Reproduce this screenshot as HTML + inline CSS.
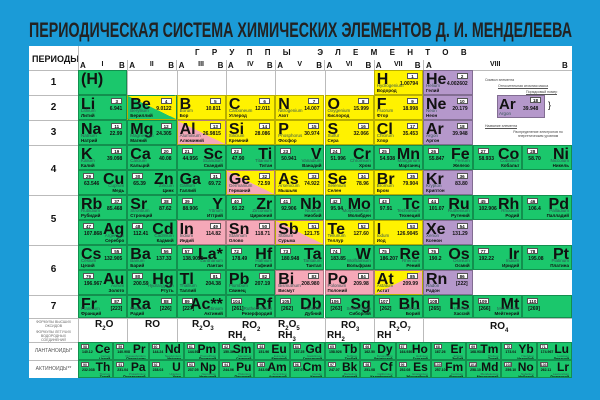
<!DOCTYPE html>
<html><head><meta charset="utf-8">
<style>
*{margin:0;padding:0;box-sizing:border-box}
body{width:600px;height:400px;background:#1b9bd7;position:relative;overflow:hidden;font-family:"Liberation Sans","DejaVu Sans",sans-serif;color:#111}
#t{position:absolute;left:29px;top:46px;width:543px;height:332px;background:#fff}
.a{position:absolute}
.c{position:absolute;border:0.5px solid rgba(0,0,0,.28);overflow:hidden}
.s{position:absolute;font-weight:bold;font-size:16px;line-height:16px;top:1px}
.n{position:absolute;top:2px;width:11px;height:6px;background:#fff;border:0.5px solid #555;font-size:4.5px;line-height:5px;text-align:center;font-weight:bold}
.m{position:absolute;top:10px;font-size:5px;font-weight:bold}
.l{position:absolute;bottom:6px;font-size:4.5px;color:#355}
.r{position:absolute;bottom:1px;font-size:4.5px;font-weight:bold}
.hl{position:absolute;background:#bbb}
.f{position:absolute;font-size:10px;font-weight:bold;line-height:10px}
.f sub{font-size:6px}
</style></head><body>
<svg class="a" style="left:0;top:0" width="600" height="46"><text x="29" y="37" textLength="543" lengthAdjust="spacingAndGlyphs" font-family="Liberation Sans" font-weight="bold" font-size="21" fill="#222">ПЕРИОДИЧЕСКАЯ СИСТЕМА ХИМИЧЕСКИХ ЭЛЕМЕНТОВ Д. И. МЕНДЕЛЕЕВА</text></svg>
<div id="t"></div>
<script>
const B=document.body;
function el(cls,st,txt){const d=document.createElement('div');d.className=cls;d.style.cssText=st;if(txt!==undefined)d.textContent=txt;B.appendChild(d);return d;}
const G='#1bc76c',Y='#fff200',P='#f5a8b8',V='#b598cb';
const GX=[78,127.3,176.6,225.9,275.2,324.5,373.8,423,472.7,522.3,572];
el('a','left:32px;top:54px;font-size:9px;font-weight:bold','ПЕРИОДЫ');
el('a','left:195px;top:48px;font-size:8px;font-weight:bold;letter-spacing:12.3px','ГРУППЫ ЭЛЕМЕНТОВ');
const rom=['I','II','III','IV','V','VI','VII'];
for(let i=0;i<7;i++){const x=GX[i];
 el('a',`left:${x+2}px;top:61px;font-size:8px;font-weight:bold`,'A');
 el('a',`left:${x}px;width:49px;text-align:center;top:61px;font-size:7px;font-weight:bold`,rom[i]);
 el('a',`left:${x+41}px;top:61px;font-size:8px;font-weight:bold`,'B');
 el('hl',`left:${x+49}px;top:60px;width:0.6px;height:10px`);}
el('a','left:426px;top:61px;font-size:8px;font-weight:bold','A');
el('a','left:490px;top:61px;font-size:7px;font-weight:bold','VIII');
el('a','left:562px;top:61px;font-size:8px;font-weight:bold','B');
el('hl','left:29px;top:70px;width:543px;height:0.7px');
el('hl','left:78px;top:46px;width:0.7px;height:332px');
const PR=[[70,95,'1'],[95,120,'2'],[120,145,'3'],[145,195,'4'],[195,245,'5'],[245,295,'6'],[295,318,'7']];
PR.forEach(p=>{el('a',`left:29px;width:49px;text-align:center;top:${(p[0]+p[1])/2-6}px;font-size:10px;font-weight:bold`,p[2]);el('hl',`left:29px;top:${p[1]}px;width:49px;height:0.7px`);});
for(let i=1;i<=6;i++)el('hl',`left:${GX[i]}px;top:70px;width:0.6px;height:25px`);
function cell(col,y,h,d){
 const [sym,z,mass,lat,rus,bg,side]=d;const x=GX[col],w=GX[col+1]-x;
 const c=el('c',`left:${x}px;top:${y}px;width:${w}px;height:${h}px;background:${bg}`);
 const add=(cls,st,t)=>{const e=document.createElement('div');e.className=cls;e.style.cssText=st;e.textContent=t;c.appendChild(e);};
 if(side=='A'){add('s','left:2px',sym);if(z){add('n','right:4px',z);add('m','right:4px',mass);}add('l','left:2px',lat);add('r','left:2px',rus);}
 else{add('s','right:2px',sym);if(z){add('n','left:4px',z);add('m','left:5px',mass);}add('l','right:2px',lat);add('r','right:2px',rus);}
}
const gr=(a,b)=>`linear-gradient(to top right,${a} 50%,${b} 50%)`;
const gr2=(a,b)=>`linear-gradient(to bottom right,${a} 50%,${b} 50%)`;
cell(0,70,25,['(H)','','','','',G,'A']);
cell(6,70,25,['H',1,'1.00794','Hydrogenium','Водород',Y,'A']);
cell(7,70,25,['He',2,'4.002602','Helium','Гелий',V,'A']);
const rows=[
[95,25,[['Li',3,'6.941','Lithium','Литий',G,'A'],['Be',4,'9.0122','Beryllium','Бериллий',gr(G,Y),'A'],['B',5,'10.811','Borum','Бор',Y,'A'],['C',6,'12.011','Carboneum','Углерод',Y,'A'],['N',7,'14.007','Nitrogenium','Азот',Y,'A'],['O',8,'15.999','Oxygenium','Кислород',Y,'A'],['F',9,'18.998','Fluorum','Фтор',Y,'A'],['Ne',10,'20.179','Neon','Неон',V,'A']]],
[120,25,[['Na',11,'22.99','Natrium','Натрий',G,'A'],['Mg',12,'24.305','Magnesium','Магний',G,'A'],['Al',13,'26.9815','Aluminium','Алюминий',gr(P,Y),'A'],['Si',14,'28.086','Silicium','Кремний',Y,'A'],['P',15,'30.974','Phosphorus','Фосфор',Y,'A'],['S',16,'32.066','Sulfur','Сера',Y,'A'],['Cl',17,'35.453','Chlorum','Хлор',Y,'A'],['Ar',18,'39.948','Argon','Аргон',V,'A']]],
[145,25,[['K',19,'39.098','Kalium','Калий',G,'A'],['Ca',20,'40.08','Calcium','Кальций',G,'A'],['Sc',21,'44.956','Scandium','Скандий',G,'B'],['Ti',22,'47.90','Titanium','Титан',G,'B'],['V',23,'50.941','Vanadium','Ванадий',G,'B'],['Cr',24,'51.996','Chromium','Хром',G,'B'],['Mn',25,'54.938','Manganum','Марганец',G,'B'],['Fe',26,'55.847','Ferrum','Железо',G,'B'],['Co',27,'58.933','Cobaltum','Кобальт',G,'B'],['Ni',28,'58.70','Niccolum','Никель',G,'B']]],
[170,25,[['Cu',29,'63.546','Cuprum','Медь',G,'B'],['Zn',30,'65.39','Zincum','Цинк',G,'B'],['Ga',31,'69.72','Gallium','Галлий',G,'A'],['Ge',32,'72.59','Germanium','Германий',gr(P,Y),'A'],['As',33,'74.922','Arsenicum','Мышьяк',Y,'A'],['Se',34,'78.96','Selenium','Селен',Y,'A'],['Br',35,'79.904','Bromum','Бром',Y,'A'],['Kr',36,'83.80','Krypton','Криптон',V,'A']]],
[195,25,[['Rb',37,'85.468','Rubidium','Рубидий',G,'A'],['Sr',38,'87.62','Strontium','Стронций',G,'A'],['Y',39,'88.906','Yttrium','Иттрий',G,'B'],['Zr',40,'91.22','Zirconium','Цирконий',G,'B'],['Nb',41,'92.906','Niobium','Ниобий',G,'B'],['Mo',42,'95.94','Molybdaenum','Молибден',G,'B'],['Tc',43,'97.91','Technetium','Технеций',G,'B'],['Ru',44,'101.07','Ruthenium','Рутений',G,'B'],['Rh',45,'102.906','Rhodium','Родий',G,'B'],['Pd',46,'106.4','Palladium','Палладий',G,'B']]],
[220,25,[['Ag',47,'107.868','Argentum','Серебро',G,'B'],['Cd',48,'112.41','Cadmium','Кадмий',G,'B'],['In',49,'114.82','Indium','Индий',P,'A'],['Sn',50,'118.71','Stannum','Олово',P,'A'],['Sb',51,'121.75','Stibium','Сурьма',gr(P,Y),'A'],['Te',52,'127.60','Tellurium','Теллур',Y,'A'],['I',53,'126.9045','Iodum','Иод',Y,'A'],['Xe',54,'131.29','Xenon','Ксенон',V,'A']]],
[245,25,[['Cs',55,'132.905','Cesium','Цезий',G,'A'],['Ba',56,'137.33','Barium','Барий',G,'A'],['La*',57,'138.9055','Lanthanum','Лантан',G,'B'],['Hf',72,'178.49','Hafnium','Гафний',G,'B'],['Ta',73,'180.948','Tantalum','Тантал',G,'B'],['W',74,'183.85','Wolframium','Вольфрам',G,'B'],['Re',75,'186.207','Rhenium','Рений',G,'B'],['Os',76,'190.2','Osmium','Осмий',G,'B'],['Ir',77,'192.22','Iridium','Иридий',G,'B'],['Pt',78,'195.08','Platinum','Платина',G,'B']]],
[270,25,[['Au',79,'196.967','Aurum','Золото',G,'B'],['Hg',80,'200.59','Hydrargyrum','Ртуть',G,'B'],['Tl',81,'204.38','Thallium','Таллий',G,'A'],['Pb',82,'207.19','Plumbum','Свинец',G,'A'],['Bi',83,'208.980','Bismuthum','Висмут',P,'A'],['Po',84,'209.98','Polonium','Полоний',P,'A'],['At',85,'209.99','Astatum','Астат',gr2(Y,P),'A'],['Rn',86,'[222]','Radon','Радон',V,'A']]],
[295,23,[['Fr',87,'[223]','Francium','Франций',G,'A'],['Ra',88,'[226]','Radium','Радий',G,'A'],['Ac**',89,'[227]','Actinium','Актиний',G,'B'],['Rf',104,'[261]','Rutherfordium','Резерфордий',G,'B'],['Db',105,'[262]','Dubnium','Дубний',G,'B'],['Sg',106,'[263]','Seaborgium','Сиборгий',G,'B'],['Bh',107,'[262]','Bohrium','Борий',G,'B'],['Hs',108,'[265]','Hassium','Хассий',G,'B'],['Mt',109,'[266]','Meitnerium','Мейтнерий',G,'B'],['',110,'[269]','','',G,'B']]]];
rows.forEach(r=>r[2].forEach((d,i)=>cell(i,r[0],r[1],d)));
el('c','left:497px;top:95px;width:48px;height:23px;background:'+V,'');
el('a','left:499px;top:96px;font-size:15px;font-weight:bold','Ar');
el('n','left:530px;top:97px;position:absolute','18');
el('a','left:523px;top:106px;font-size:5px;font-weight:bold','39.948');
el('a','left:499px;top:111px;font-size:4.5px;color:#355','Argon');
el('a','left:485px;top:78px;font-size:3.5px;color:#444','Символ элемента');
el('a','left:498px;top:84px;font-size:3.5px;color:#444;border-bottom:0.5px solid #555','Относительная атомная масса');
el('a','left:526px;top:90px;font-size:3.5px;color:#444;border-bottom:0.5px solid #555','Порядковый номер');
el('a','left:485px;top:124px;font-size:3.5px;color:#444;border-bottom:0.5px solid #555','Название элемента');
el('a','left:505px;top:130px;width:66px;font-size:3.5px;color:#444;text-align:center','Распределение электронов по энергетическим уровням');
el('a','left:548px;top:100px;font-size:9px','}');
const FY=318;
el('hl',`left:29px;top:${FY}px;width:543px;height:0.7px`);
[127.3,176.6,324.5,373.8,423].forEach(x=>el('hl',`left:${x}px;top:${FY}px;width:0.6px;height:24px`));
el('a',`left:30px;top:${FY+2}px;width:47px;font-size:3.5px;color:#666;text-align:center`,'ФОРМУЛЫ ВЫСШИХ ОКСИДОВ');
el('a',`left:30px;top:${FY+12}px;width:47px;font-size:3.5px;color:#666;text-align:center`,'ФОРМУЛЫ ЛЕТУЧИХ ВОДОРОДНЫХ СОЕДИНЕНИЙ');
const F=[[95,2,'R<sub>2</sub>O'],[145,2,'RO'],[192,2,'R<sub>2</sub>O<sub>3</sub>'],[242,3,'RO<sub>2</sub>'],[228,13,'RH<sub>4</sub>'],[278,2,'R<sub>2</sub>O<sub>5</sub>'],[278,13,'RH<sub>3</sub>'],[341,3,'RO<sub>3</sub>'],[327,13,'RH<sub>2</sub>'],[389,3,'R<sub>2</sub>O<sub>7</sub>'],[377,13,'RH'],[490,4,'RO<sub>4</sub>']];
F.forEach(f=>{const a=el('f',`left:${f[0]}px;top:${FY+f[1]}px`);a.innerHTML=f[2];});
const LN=[[58,'Ce','140.12','Cerium','Церий'],[59,'Pr','140.908','Praseodymium','Празеодим'],[60,'Nd','144.24','Neodymium','Неодим'],[61,'Pm','144.91','Promethium','Прометий'],[62,'Sm','150.36','Samarium','Самарий'],[63,'Eu','151.96','Europium','Европий'],[64,'Gd','157.25','Gadolinium','Гадолиний'],[65,'Tb','158.926','Terbium','Тербий'],[66,'Dy','162.50','Dysprosium','Диспрозий'],[67,'Ho','164.930','Holmium','Гольмий'],[68,'Er','167.26','Erbium','Эрбий'],[69,'Tm','168.934','Thulium','Тулий'],[70,'Yb','173.04','Ytterbium','Иттербий'],[71,'Lu','174.967','Lutetium','Лютеций']];
const AC=[[90,'Th','232.038','Thorium','Торий'],[91,'Pa','231.04','Protactinium','Протактиний'],[92,'U','238.03','Uranium','Уран'],[93,'Np','237.05','Neptunium','Нептуний'],[94,'Pu','244.06','Plutonium','Плутоний'],[95,'Am','243.06','Americium','Америций'],[96,'Cm','247.07','Curium','Кюрий'],[97,'Bk','247.07','Berkelium','Берклий'],[98,'Cf','251.08','Californium','Калифорний'],[99,'Es','252.08','Einsteinium','Эйнштейний'],[100,'Fm','257.10','Fermium','Фермий'],[101,'Md','258.10','Mendelevium','Менделевий'],[102,'No','259.10','Nobelium','Нобелий'],[103,'Lr','262.11','Lawrencium','Лоуренсий']];
function frow(arr,y,lab){
 el('a',`left:29px;width:49px;text-align:center;top:${y+6}px;font-size:5px;color:#555`,lab);
 el('hl',`left:29px;top:${y}px;width:49px;height:0.7px`);
 const w=(572-78)/14;
 arr.forEach((d,i)=>{const x=78+i*w;const c=el('c',`left:${x}px;top:${y}px;width:${w}px;height:18px;background:${G}`);
  c.innerHTML=`<div style="position:absolute;right:2px;top:0;font-size:12px;font-weight:bold;line-height:12px">${d[1]}</div><div class="n" style="left:2px;top:1px;width:8px;height:5px;font-size:3.5px;line-height:4px">${d[0]}</div><div style="position:absolute;left:3px;top:7px;font-size:3.5px;font-weight:bold">${d[2]}</div><div style="position:absolute;right:2px;top:11px;font-size:3px;color:#355">${d[3]}</div><div style="position:absolute;right:2px;top:14px;font-size:3.5px;font-weight:bold">${d[4]}</div>`;});
}
frow(LN,342,'ЛАНТАНОИДЫ*');frow(AC,360,'АКТИНОИДЫ**');
</script>
</body></html>
